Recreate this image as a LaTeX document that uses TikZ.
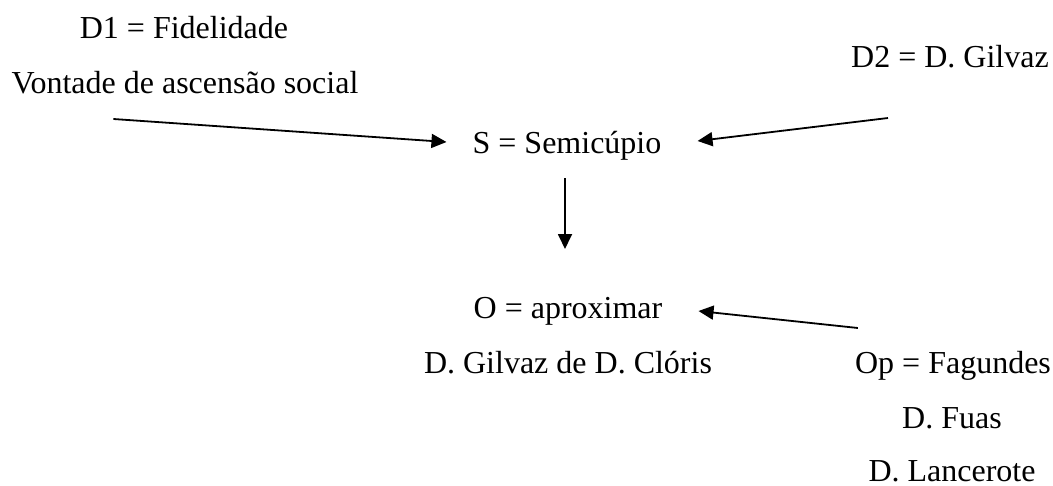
\documentclass[tikz,border=0pt]{standalone}
\usepackage{fontspec}
\setmainfont{Liberation Serif}
\usetikzlibrary{arrows.meta,calc}
\tikzset{
  lbl/.style={inner sep=0pt, anchor=base, font=\fontsize{32}{38}\selectfont},
  arr/.style={line width=1.8pt, -{Triangle[length=15pt,width=14pt]}}
}
\begin{document}
\begin{tikzpicture}[x=1pt,y=-1pt]
\useasboundingbox (0,0) rectangle (1053,485);
\node[lbl] (d1) at (184,38) {D1 = Fidelidade};
\node[lbl] (vont) at (185,93) {Vontade de ascensão social};
\node[lbl] (d2) at (950,67) {D2 = D. Gilvaz};
\node[lbl] (s) at (567,153) {S = Semicúpio};
\node[lbl] (o) at (568,318) {O = aproximar};
\node[lbl] (gil) at (568,373) {D. Gilvaz de D. Clóris};
\node[lbl] (op) at (953,373) {Op = Fagundes};
\node[lbl] (fuas) at (952,428) {D. Fuas};
\node[lbl] (lanc) at (952,481) {D. Lancerote};
\draw[arr] ($(vont.base west)+(102,26)$) -- ($(s.base west)+(-26,-11)$);
\draw[arr] ($(d2.base west)+(37,51)$) -- ($(s.base east)+(36,-12)$);
\draw[arr] ($(s.base)+(-2,25)$) -- ($(o.base)+(-3,-69)$);
\draw[arr] ($(op.base west)+(3,-45)$) -- ($(o.base east)+(36,-7)$);
\end{tikzpicture}
\end{document}
